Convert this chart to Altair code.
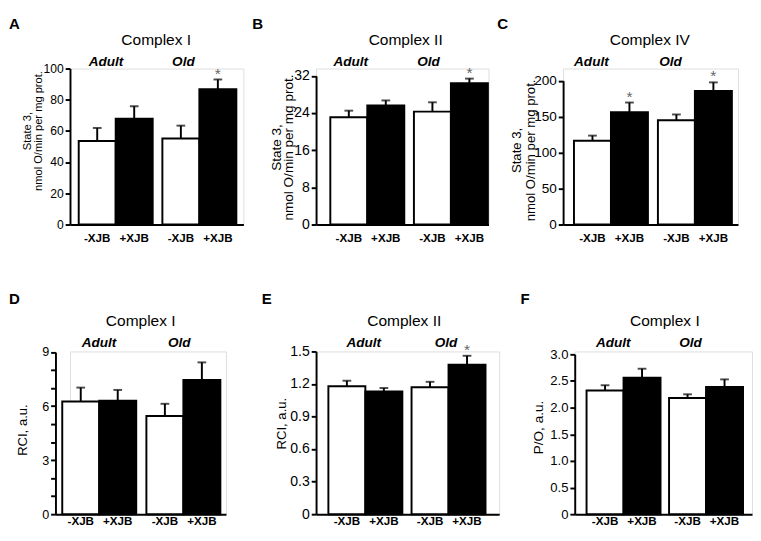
import altair as alt
import pandas as pd

FONT = "Liberation Sans"

GROUPS = ["Adult", "Adult", "Old", "Old"]
TREATS = ["-XJB", "+XJB", "-XJB", "+XJB"]

# Panel A: State 3, Complex I
A_vals = [53.6, 67.9, 55.1, 86.8]
A_err = [8.3, 7.9, 8.3, 6.2]
A_sig = [0, 0, 0, 1]
# Panel B: State 3, Complex II
B_vals = [23.1, 25.6, 24.3, 30.4]
B_err = [1.4, 1.1, 2.0, 1.0]
B_sig = [0, 0, 0, 1]
# Panel C: State 3, Complex IV
C_vals = [116.5, 156.0, 145.0, 185.8]
C_err = [7.1, 13.6, 8.0, 11.8]
C_sig = [0, 1, 0, 1]
# Panel D: RCI, Complex I
D_vals = [6.26, 6.30, 5.45, 7.46]
D_err = [0.77, 0.60, 0.68, 0.97]
D_sig = [0, 0, 0, 0]
# Panel E: RCI, Complex II
E_vals = [1.18, 1.13, 1.17, 1.378]
E_err = [0.05, 0.033, 0.05, 0.082]
E_sig = [0, 0, 0, 1]
# Panel F: P/O, Complex I
F_vals = [2.32, 2.56, 2.18, 2.39]
F_err = [0.10, 0.17, 0.07, 0.14]
F_sig = [0, 0, 0, 0]

A_ticks = [0, 20, 40, 60, 80, 100]
B_ticks = [0, 8, 16, 24, 32]
C_ticks = [0, 50, 100, 150, 200]
D_ticks = [0, 1, 2, 3, 4, 5, 6, 7, 8, 9]
E_ticks = [0, 0.3, 0.6, 0.9, 1.2, 1.5]
F_ticks = [0, 0.5, 1.0, 1.5, 2.0, 2.5, 3.0]

STATE3 = ["State 3,", "nmol O/min per mg prot."]

ROW1 = dict(top=61, bottom=222, letter=20, title=37, grp=58, xlab=240)
ROW2 = dict(top=351, bottom=519, letter=302, title=325, grp=346.5, xlab=530)

LAYOUT = {
    "A": dict(W=179, ytop=61, bar_l=9, bar_r=171.7, gap=10, letter_x=-63, shift=0,
              title_x=89, grp_dx=(-10, -16.5), tick_fs=12.5, ttl_fs=11.5, ttl_x=-44, ttl_c=125, ttl_lh=12, row=ROW1),
    "B": dict(W=178, ytop=68.5, bar_l=14.7, bar_r=177.3, gap=10, letter_x=-66, shift=0,
              title_x=92.5, grp_dx=(-17, -23), tick_fs=14.5, ttl_fs=14, ttl_x=-40.5, ttl_c=142, ttl_lh=12, row=ROW1),
    "C": dict(W=180.5, ytop=73.5, bar_l=11.2, bar_r=173.8, gap=10.7, letter_x=-68, shift=0,
              title_x=89.5, grp_dx=(-20, -25), tick_fs=14, ttl_fs=13.6, ttl_x=-47.5, ttl_c=145, ttl_lh=14, row=ROW1),
    "D": dict(W=176, ytop=351.7, bar_l=7, bar_r=169.7, gap=11, letter_x=-48, shift=15,
              title_x=88, grp_dx=(0, -4), tick_fs=13, ttl_fs=13.5, ttl_x=-33.5, ttl_c=431.7, ttl_lh=12, row=ROW2),
    "E": dict(W=189, ytop=351, bar_l=12.7, bar_r=175.7, gap=8.7, letter_x=-56, shift=0,
              title_x=91, grp_dx=(-2, -3), tick_fs=14.5, ttl_fs=13.5, ttl_x=-35.3, ttl_c=425, ttl_lh=12, row=ROW2),
    "F": dict(W=183, ytop=354, bar_l=12.2, bar_r=173.5, gap=9, letter_x=-56, shift=0,
              title_x=93, grp_dx=(-10.5, -16), tick_fs=13.5, ttl_fs=14, ttl_x=-37.2, ttl_c=429, ttl_lh=12, row=ROW2),
}


def make_panel(key, title, ytitle, vals, errs, sig, ymax, ticks, label_expr=""):
    L = LAYOUT[key]
    R = L["row"]
    W = L["W"]
    s = L["shift"]
    top = R["top"]
    H = R["bottom"] - top
    df = pd.DataFrame({"group": GROUPS, "treat": TREATS, "val": vals, "err": errs, "sig": sig})
    df["top"] = df["val"] + df["err"]
    base = alt.Chart(df)

    S = L["bar_r"] - L["bar_l"]
    step = (S + L["gap"]) / 2
    O = W - S
    xs = alt.Scale(paddingInner=L["gap"] / step, paddingOuter=O / (2 * step), align=L["bar_l"] / O,
                   range=[-s, W - s])
    xax = alt.Axis(labels=False, ticks=False, title=None, domainWidth=2, domainColor="black", grid=False,
                   minExtent=0)
    X = alt.X("group:N", sort=["Adult", "Old"], scale=xs, axis=xax)
    XO = alt.XOffset("treat:N", sort=["-XJB", "+XJB"])

    ys = alt.Scale(domain=[0, ymax], nice=False, zero=True, range=[H, L["ytop"] - top])
    axkw = dict(values=ticks, title=ytitle, grid=False, domainColor="black", domainWidth=2,
                tickColor="black", tickWidth=2, tickSize=5, labelColor="black",
                labelFontSize=L["tick_fs"], labelPadding=2, labelFont=FONT,
                titleColor="black", titleFontSize=L["ttl_fs"], titleFontWeight="normal", titleFont=FONT,
                titleAngle=270, titleX=L["ttl_x"], titleY=L["ttl_c"] - top, titleBaseline="middle",
                titleAlign="center", titleLineHeight=L["ttl_lh"], minExtent=0)
    if s:
        axkw["offset"] = s
    if label_expr:
        axkw["labelExpr"] = label_expr
    yax = alt.Axis(**axkw)

    def Y(field):
        return alt.Y(field, type="quantitative", scale=ys, axis=yax)

    bars = base.mark_bar(stroke="black", strokeWidth=2).encode(
        x=X, xOffset=XO, y=Y("val"),
        fill=alt.Fill("treat:N", scale=alt.Scale(domain=["-XJB", "+XJB"], range=["white", "black"]), legend=None),
    )
    err = base.mark_rule(color="black", strokeWidth=2).encode(x=X, xOffset=XO, y=Y("val"), y2="top:Q")
    cap = base.mark_tick(color="black", size=9, thickness=2).encode(x=X, xOffset=XO, y=Y("top"))
    stars = base.transform_filter("datum.sig == 1").mark_text(
        text="*", fontSize=16, color="#666666", baseline="alphabetic", dy=-1, font=FONT
    ).encode(x=X, xOffset=XO, y=Y("top"))
    xlab = base.mark_text(fontSize=12, fontWeight="bold", font=FONT, baseline="alphabetic", color="black").encode(
        x=X, xOffset=XO, y=alt.value(R["xlab"] - top), text="treat:N"
    )
    layers = [bars, err, cap, stars, xlab]
    for g, dx in zip(["Adult", "Old"], L["grp_dx"]):
        layers.append(
            base.transform_filter(f"datum.group == '{g}' && datum.treat == '-XJB'").mark_text(
                fontSize=14, fontWeight="bold", fontStyle="italic", font=FONT, dx=dx,
                baseline="alphabetic", color="black"
            ).encode(x=X, y=alt.value(R["grp"] - top), text="group:N")
        )
    one = base.transform_filter("datum.group == 'Adult' && datum.treat == '-XJB'")
    layers.append(
        one.mark_text(text=title, fontSize=16, font=FONT, baseline="alphabetic", color="black").encode(
            x=alt.value(L["title_x"] - s), y=alt.value(R["title"] - top)
        )
    )
    layers.append(
        one.mark_text(text=key, fontSize=15.5, fontWeight="bold", font=FONT, align="left",
                      baseline="alphabetic", color="black").encode(
            x=alt.value(L["letter_x"] - s), y=alt.value(R["letter"] - top)
        )
    )
    return alt.layer(*layers).properties(width=W - s, height=H)


pA = make_panel("A", "Complex I", STATE3, A_vals, A_err, A_sig, 100, A_ticks)
pB = make_panel("B", "Complex II", STATE3, B_vals, B_err, B_sig, 32, B_ticks)
pC = make_panel("C", "Complex IV", STATE3, C_vals, C_err, C_sig, 200, C_ticks)
pD = make_panel("D", "Complex I", "RCI, a.u.", D_vals, D_err, D_sig, 9, D_ticks,
                "datum.value % 3 == 0 ? datum.label : ''")
pE = make_panel("E", "Complex II", "RCI, a.u.", E_vals, E_err, E_sig, 1.5, E_ticks,
                "datum.value == 0 ? '0' : format(datum.value, '.1f')")
pF = make_panel("F", "Complex I", "P/O, a.u.", F_vals, F_err, F_sig, 3.0, F_ticks,
                "datum.value == 0 ? '0' : format(datum.value, '.1f')")

chart = (
    alt.vconcat(
        alt.hconcat(pA, pB, pC, spacing=7),
        alt.hconcat(pD, pE, pF, spacing=20),
        spacing=48,
    )
    .properties(padding=0, background="white")
    .configure_view(strokeWidth=0)
    .configure(font=FONT)
)

chart.save("out.html", embed_options={"renderer": "svg", "actions": False})
